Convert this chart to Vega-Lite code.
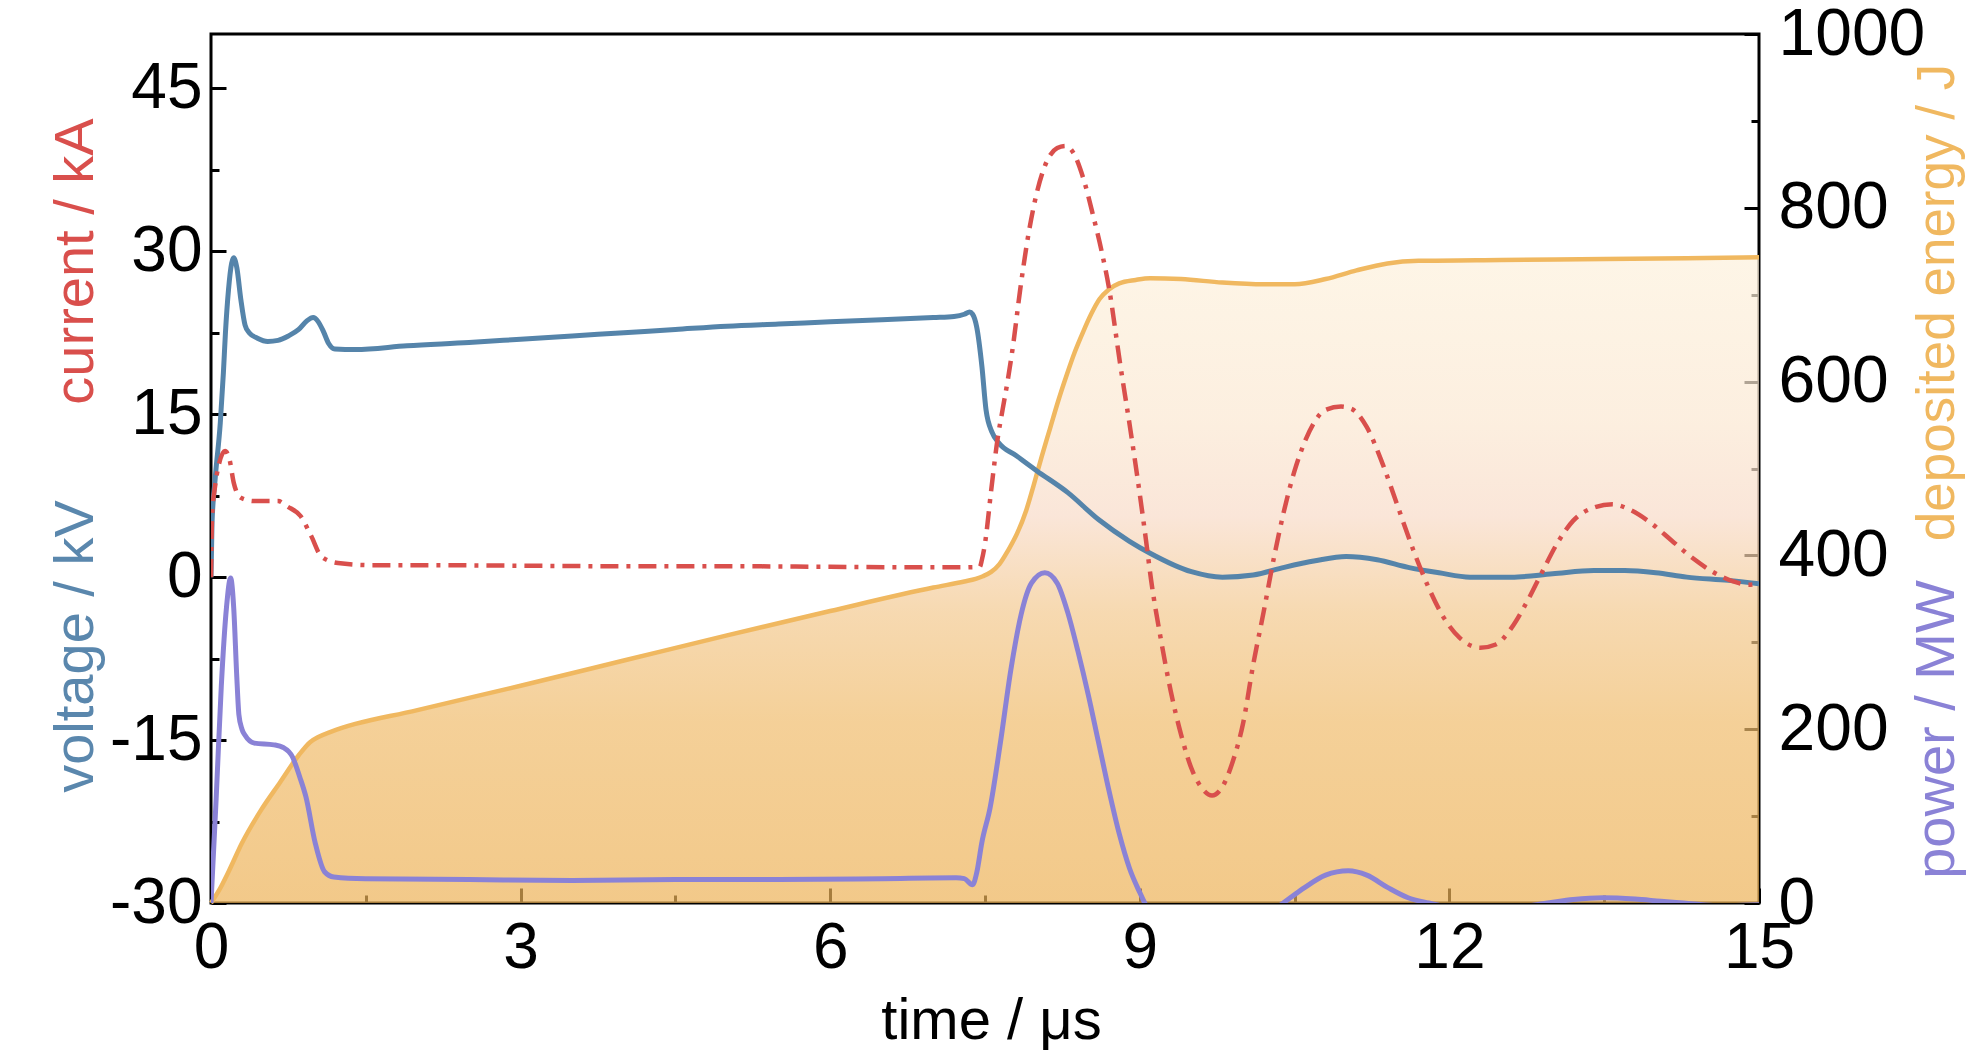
{
  "$schema": "https://vega.github.io/schema/vega-lite/v6.json",
  "width": 1548,
  "height": 869,
  "autosize": {"type": "none"},
  "padding": {"left": 211, "top": 34, "right": 225, "bottom": 160},
  "background": "white",
  "config": {
    "view": {"stroke": "black", "strokeWidth": 3},
    "axis": {
      "grid": false,
      "domain": false,
      "tickColor": "black",
      "tickWidth": 3,
      "labelColor": "black",
      "labelFont": "Liberation Sans, Arial, sans-serif",
      "labelFlush": false,
      "labelOverlap": false,
      "titleFont": "Liberation Sans, Arial, sans-serif",
      "titleFontSize": 56,
      "titleFontWeight": "normal",
      "titleBaseline": "alphabetic",
      "titleAlign": "center"
    }
  },
  "datasets": {
    "energy": [
      {"t": 0, "v": 0}, {"t": 0.08, "v": 15}, {"t": 0.17, "v": 36}, {"t": 0.3, "v": 69},
      {"t": 0.48, "v": 106}, {"t": 0.67, "v": 139}, {"t": 0.85, "v": 170}, {"t": 0.96, "v": 185},
      {"t": 1.04, "v": 191}, {"t": 1.16, "v": 197}, {"t": 2, "v": 222}, {"t": 3, "v": 250},
      {"t": 4, "v": 279}, {"t": 5, "v": 308}, {"t": 6, "v": 336}, {"t": 7, "v": 363},
      {"t": 7.3, "v": 370}, {"t": 7.41, "v": 373}, {"t": 7.48, "v": 376}, {"t": 7.56, "v": 381},
      {"t": 7.64, "v": 390}, {"t": 7.72, "v": 405}, {"t": 7.81, "v": 425}, {"t": 7.9, "v": 452},
      {"t": 7.97, "v": 480}, {"t": 8.05, "v": 514}, {"t": 8.13, "v": 546}, {"t": 8.21, "v": 578},
      {"t": 8.29, "v": 607}, {"t": 8.37, "v": 634}, {"t": 8.45, "v": 657}, {"t": 8.53, "v": 678},
      {"t": 8.61, "v": 695}, {"t": 8.7, "v": 706}, {"t": 8.8, "v": 713}, {"t": 8.96, "v": 717},
      {"t": 9.1, "v": 719}, {"t": 9.4, "v": 718}, {"t": 9.8, "v": 714}, {"t": 10.2, "v": 712},
      {"t": 10.5, "v": 712}, {"t": 10.8, "v": 718}, {"t": 11.1, "v": 728}, {"t": 11.4, "v": 736},
      {"t": 11.7, "v": 739}, {"t": 12.5, "v": 740}, {"t": 13.5, "v": 741}, {"t": 14.3, "v": 742},
      {"t": 15, "v": 743}
    ],
    "power": [
      {"t": 0, "v": 0}, {"t": 0.05, "v": 120}, {"t": 0.1, "v": 250}, {"t": 0.15, "v": 340},
      {"t": 0.19, "v": 374}, {"t": 0.22, "v": 340}, {"t": 0.25, "v": 260}, {"t": 0.27, "v": 217},
      {"t": 0.3, "v": 200}, {"t": 0.33, "v": 193}, {"t": 0.42, "v": 184}, {"t": 0.61, "v": 182},
      {"t": 0.7, "v": 179}, {"t": 0.79, "v": 168}, {"t": 0.86, "v": 145}, {"t": 0.92, "v": 122},
      {"t": 1.01, "v": 69}, {"t": 1.1, "v": 36}, {"t": 1.19, "v": 30}, {"t": 1.5, "v": 28},
      {"t": 2.5, "v": 27}, {"t": 3.5, "v": 26}, {"t": 4.5, "v": 27}, {"t": 5.5, "v": 27},
      {"t": 6.5, "v": 28}, {"t": 7.22, "v": 29}, {"t": 7.3, "v": 28}, {"t": 7.38, "v": 21},
      {"t": 7.42, "v": 35}, {"t": 7.47, "v": 70}, {"t": 7.55, "v": 110}, {"t": 7.65, "v": 185},
      {"t": 7.75, "v": 268}, {"t": 7.85, "v": 332}, {"t": 7.95, "v": 368}, {"t": 8.08, "v": 380},
      {"t": 8.2, "v": 368}, {"t": 8.3, "v": 335}, {"t": 8.4, "v": 290}, {"t": 8.5, "v": 240},
      {"t": 8.6, "v": 185}, {"t": 8.7, "v": 130}, {"t": 8.8, "v": 80}, {"t": 8.9, "v": 40},
      {"t": 9, "v": 12}, {"t": 9.1, "v": -12}, {"t": 9.3, "v": -40}, {"t": 9.7, "v": -50},
      {"t": 10.1, "v": -25}, {"t": 10.39, "v": 0}, {"t": 10.6, "v": 18}, {"t": 10.8, "v": 32},
      {"t": 11.02, "v": 37}, {"t": 11.2, "v": 32}, {"t": 11.4, "v": 18}, {"t": 11.6, "v": 6},
      {"t": 11.8, "v": 0}, {"t": 12.3, "v": -10}, {"t": 12.95, "v": 0}, {"t": 13.2, "v": 4},
      {"t": 13.49, "v": 6}, {"t": 13.8, "v": 4.5}, {"t": 14.05, "v": 2}, {"t": 14.27, "v": 0},
      {"t": 14.6, "v": -3}, {"t": 15, "v": -2}
    ],
    "voltage": [
      {"t": 0, "v": 0}, {"t": 0.01, "v": 5}, {"t": 0.04, "v": 9}, {"t": 0.09, "v": 14.2},
      {"t": 0.12, "v": 18.8}, {"t": 0.14, "v": 22.5}, {"t": 0.17, "v": 26.5}, {"t": 0.2, "v": 28.9},
      {"t": 0.22, "v": 29.4}, {"t": 0.25, "v": 28.5}, {"t": 0.29, "v": 25.5}, {"t": 0.33, "v": 23.2},
      {"t": 0.37, "v": 22.5}, {"t": 0.45, "v": 22}, {"t": 0.55, "v": 21.7}, {"t": 0.65, "v": 21.8},
      {"t": 0.75, "v": 22.2}, {"t": 0.85, "v": 22.8}, {"t": 0.93, "v": 23.6}, {"t": 0.99, "v": 23.9},
      {"t": 1.04, "v": 23.5}, {"t": 1.09, "v": 22.6}, {"t": 1.14, "v": 21.5}, {"t": 1.2, "v": 21},
      {"t": 1.4, "v": 20.95}, {"t": 1.9, "v": 21.3}, {"t": 2.5, "v": 21.6}, {"t": 3, "v": 21.9},
      {"t": 3.5, "v": 22.2}, {"t": 4, "v": 22.5}, {"t": 4.5, "v": 22.8}, {"t": 5, "v": 23.1},
      {"t": 5.5, "v": 23.3}, {"t": 6, "v": 23.5}, {"t": 6.5, "v": 23.7}, {"t": 7, "v": 23.9},
      {"t": 7.2, "v": 24}, {"t": 7.3, "v": 24.2}, {"t": 7.35, "v": 24.4}, {"t": 7.38, "v": 24.2},
      {"t": 7.42, "v": 23}, {"t": 7.47, "v": 19.4}, {"t": 7.51, "v": 15.4}, {"t": 7.57, "v": 13.3},
      {"t": 7.63, "v": 12.4}, {"t": 7.8, "v": 11.2}, {"t": 8, "v": 9.8}, {"t": 8.3, "v": 7.8},
      {"t": 8.6, "v": 5.3}, {"t": 8.9, "v": 3.3}, {"t": 9.1, "v": 2.2}, {"t": 9.5, "v": 0.5},
      {"t": 9.8, "v": 0}, {"t": 10.1, "v": 0.2}, {"t": 10.4, "v": 0.9}, {"t": 10.7, "v": 1.5},
      {"t": 11, "v": 1.9}, {"t": 11.3, "v": 1.6}, {"t": 11.6, "v": 0.9}, {"t": 11.9, "v": 0.4},
      {"t": 12.2, "v": 0}, {"t": 12.6, "v": 0}, {"t": 13, "v": 0.3}, {"t": 13.4, "v": 0.6},
      {"t": 13.7, "v": 0.6}, {"t": 14, "v": 0.4}, {"t": 14.3, "v": 0}, {"t": 14.7, "v": -0.3},
      {"t": 15, "v": -0.6}
    ],
    "current": [
      {"t": 0, "v": 0}, {"t": 0.01, "v": 5.5}, {"t": 0.04, "v": 8.4}, {"t": 0.08, "v": 10.5},
      {"t": 0.136, "v": 11.6}, {"t": 0.18, "v": 10.8}, {"t": 0.22, "v": 8.7}, {"t": 0.29, "v": 7.3},
      {"t": 0.42, "v": 7}, {"t": 0.65, "v": 7}, {"t": 0.74, "v": 6.5}, {"t": 0.87, "v": 5.6},
      {"t": 0.97, "v": 3.8}, {"t": 1.07, "v": 1.9}, {"t": 1.23, "v": 1.3}, {"t": 1.55, "v": 1.1},
      {"t": 2, "v": 1.1}, {"t": 3, "v": 1.05}, {"t": 4, "v": 1}, {"t": 5, "v": 1},
      {"t": 6, "v": 0.95}, {"t": 7, "v": 0.9}, {"t": 7.3, "v": 0.9}, {"t": 7.45, "v": 0.95},
      {"t": 7.47, "v": 1.6}, {"t": 7.5, "v": 3.1}, {"t": 7.56, "v": 8}, {"t": 7.62, "v": 12.6},
      {"t": 7.67, "v": 15.4}, {"t": 7.72, "v": 18.1}, {"t": 7.77, "v": 21.2}, {"t": 7.84, "v": 26.4},
      {"t": 7.92, "v": 31.5}, {"t": 8, "v": 35.3}, {"t": 8.1, "v": 38.3}, {"t": 8.2, "v": 39.5},
      {"t": 8.28, "v": 39.7}, {"t": 8.36, "v": 39}, {"t": 8.45, "v": 36.8}, {"t": 8.55, "v": 33.2},
      {"t": 8.63, "v": 30}, {"t": 8.7, "v": 26.7}, {"t": 8.81, "v": 19.6}, {"t": 8.91, "v": 13.5},
      {"t": 8.99, "v": 8.3}, {"t": 9.06, "v": 3.4}, {"t": 9.11, "v": -0.3}, {"t": 9.2, "v": -5.5},
      {"t": 9.3, "v": -10.5}, {"t": 9.4, "v": -14.5}, {"t": 9.5, "v": -17.6}, {"t": 9.6, "v": -19.4},
      {"t": 9.7, "v": -20.1}, {"t": 9.8, "v": -19.3}, {"t": 9.9, "v": -17}, {"t": 10, "v": -13.5},
      {"t": 10.1, "v": -8}, {"t": 10.2, "v": -3.2}, {"t": 10.3, "v": 1.8}, {"t": 10.4, "v": 6.2},
      {"t": 10.5, "v": 9.8}, {"t": 10.6, "v": 12.5}, {"t": 10.7, "v": 14.4}, {"t": 10.8, "v": 15.4},
      {"t": 10.95, "v": 15.7}, {"t": 11.05, "v": 15.5}, {"t": 11.2, "v": 13.8}, {"t": 11.35, "v": 10.5},
      {"t": 11.5, "v": 6.5}, {"t": 11.65, "v": 2.5}, {"t": 11.8, "v": -1}, {"t": 11.95, "v": -3.8},
      {"t": 12.1, "v": -5.6}, {"t": 12.3, "v": -6.5}, {"t": 12.45, "v": -6.2}, {"t": 12.6, "v": -4.7},
      {"t": 12.75, "v": -2.3}, {"t": 12.9, "v": 0.5}, {"t": 13.05, "v": 3.2}, {"t": 13.2, "v": 5.2},
      {"t": 13.4, "v": 6.4}, {"t": 13.58, "v": 6.7}, {"t": 13.75, "v": 6.2}, {"t": 13.95, "v": 5},
      {"t": 14.15, "v": 3.4}, {"t": 14.35, "v": 1.8}, {"t": 14.55, "v": 0.5}, {"t": 14.75, "v": -0.4},
      {"t": 14.9, "v": -0.7}, {"t": 15, "v": -0.6}
    ]
  },
  "layer": [
    {
      "data": {"name": "energy"},
      "mark": {
        "type": "area",
        "interpolate": "monotone",
        "color": {
          "gradient": "linear",
          "x1": 0, "y1": 0, "x2": 0, "y2": 1,
          "stops": [
            {"offset": 0, "color": "#fdf1dc"},
            {"offset": 0.25, "color": "#fbe8d2"},
            {"offset": 0.4, "color": "#f8dbc8"},
            {"offset": 0.55, "color": "#f3c98f"},
            {"offset": 0.72, "color": "#f0bc6c"},
            {"offset": 1, "color": "#edb257"}
          ]
        },
        "line": {"color": "#f0b860", "strokeWidth": 4.5}
      },
      "encoding": {
        "x": {
          "field": "t", "type": "quantitative",
          "scale": {"domain": [0, 15], "nice": false},
          "axis": {
            "orient": "bottom",
            "values": [0, 3, 6, 9, 12, 15],
            "tickSize": -15,
            "labelFontSize": 64,
            "labelPadding": 28,
            "title": "time / μs",
            "titleFontSize": 58,
            "titleColor": "black",
            "titleX": 780,
            "titleY": 135
          }
        },
        "y": {
          "field": "v", "type": "quantitative",
          "scale": {"domain": [0, 1000], "nice": false},
          "axis": {
            "orient": "right",
            "values": [0, 200, 400, 600, 800, 1000],
            "format": "d",
            "tickSize": -15,
            "labelFontSize": 66,
            "labelPadding": 34,
            "title": "deposited energy / J",
            "titleFontSize": 53,
            "titleColor": "#f0b860",
            "titleAngle": -90,
            "titleX": 194,
            "titleY": 268
          }
        }
      }
    },
    {
      "data": {"name": "power"},
      "mark": {"type": "line", "interpolate": "monotone", "color": "#8a82d6", "strokeWidth": 5, "clip": true},
      "encoding": {
        "x": {
          "field": "t", "type": "quantitative",
          "scale": {"domain": [0, 15], "nice": false},
          "axis": {
            "orient": "bottom",
            "values": [1.5, 4.5, 7.5, 10.5, 13.5],
            "tickSize": -8,
            "labels": false,
            "title": null
          }
        },
        "y": {
          "field": "v", "type": "quantitative",
          "scale": {"domain": [0, 1000], "nice": false},
          "axis": {
            "orient": "right",
            "values": [100, 300, 500, 700, 900],
            "tickSize": -8,
            "labels": false,
            "title": "power / MW",
            "titleColor": "#8a82d6",
            "titleAngle": -90,
            "titleX": 194,
            "titleY": 695
          }
        }
      }
    },
    {
      "data": {"name": "voltage"},
      "mark": {"type": "line", "interpolate": "monotone", "color": "#5584aa", "strokeWidth": 5, "clip": true},
      "encoding": {
        "x": {
          "field": "t", "type": "quantitative",
          "scale": {"domain": [0, 15], "nice": false},
          "axis": null
        },
        "y": {
          "field": "v", "type": "quantitative",
          "scale": {"domain": [-30, 50], "nice": false},
          "axis": {
            "orient": "left",
            "values": [-30, -15, 0, 15, 30, 45],
            "labelExpr": "'' + datum.value",
            "tickSize": -15,
            "labelFontSize": 64,
            "labelPadding": 24,
            "title": "voltage / kV",
            "titleColor": "#5a87ad",
            "titleAngle": -90,
            "titleX": -119,
            "titleY": 612
          }
        }
      }
    },
    {
      "data": {"name": "current"},
      "mark": {"type": "line", "interpolate": "monotone", "color": "#d94f4c", "strokeWidth": 4.5, "strokeDash": [18, 8, 4, 8], "clip": true},
      "encoding": {
        "x": {
          "field": "t", "type": "quantitative",
          "scale": {"domain": [0, 15], "nice": false},
          "axis": null
        },
        "y": {
          "field": "v", "type": "quantitative",
          "scale": {"domain": [-30, 50], "nice": false},
          "axis": {
            "orient": "left",
            "values": [-22.5, -7.5, 7.5, 22.5, 37.5],
            "tickSize": -8,
            "labels": false,
            "title": "current / kA",
            "titleColor": "#d94f4c",
            "titleAngle": -90,
            "titleX": -119,
            "titleY": 227
          }
        }
      }
    }
  ],
  "resolve": {
    "scale": {"x": "independent", "y": "independent"},
    "axis": {"x": "independent", "y": "independent"}
  }
}
